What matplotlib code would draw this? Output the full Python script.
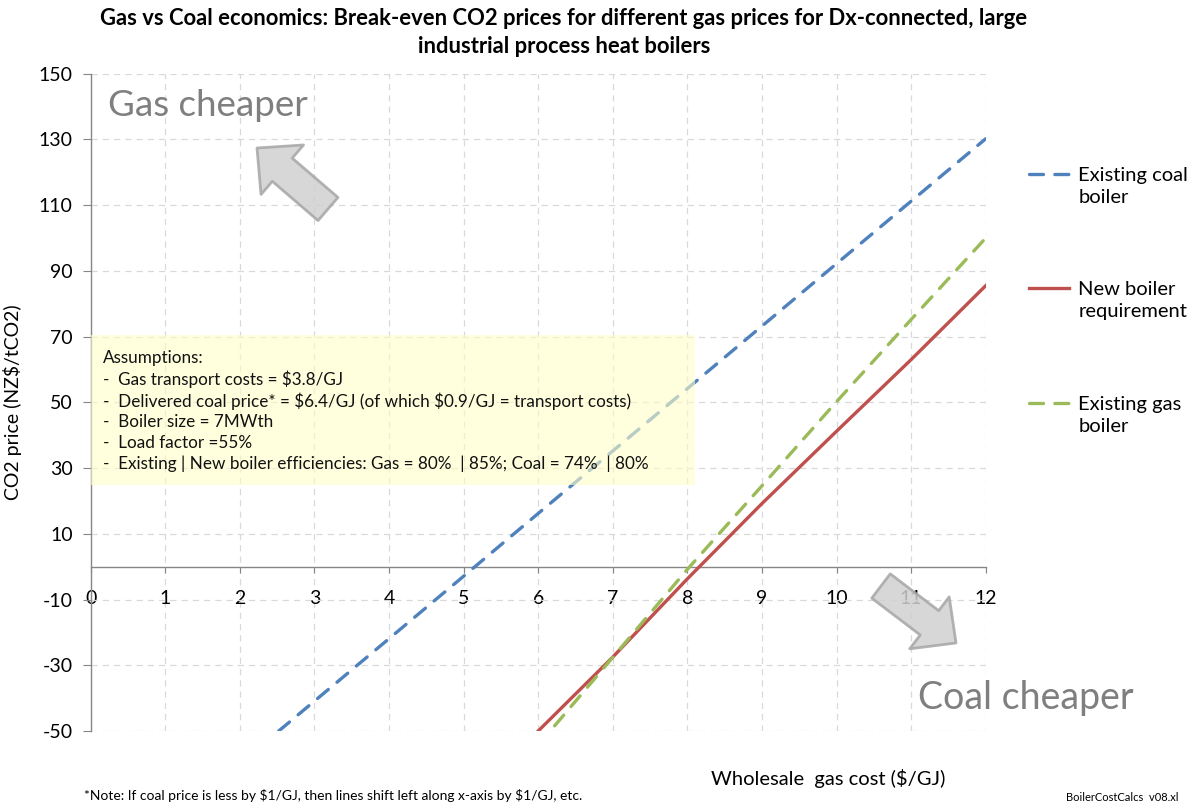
import matplotlib
matplotlib.use("Agg")
import matplotlib.pyplot as plt
from matplotlib.patches import Rectangle, FancyArrowPatch
from matplotlib.legend_handler import HandlerLine2D
from matplotlib.lines import Line2D

plt.rcParams['font.family'] = ['Lato', 'DejaVu Sans']
plt.rcParams['axes.unicode_minus'] = False

# ---------------- data ----------------
x_coal = [2, 3, 4, 5, 6, 7, 8, 9, 10, 11, 12]
coal_existing = [-59.9, -40.9, -21.9, -2.9, 16.2, 35.2, 54.2, 73.2, 92.2, 111.2, 130.2]
x_new = [6, 7, 8, 9, 10, 11, 12]
new_boiler = [-50.0, -27.5, -3.7, 19.2, 41.2, 63.0, 85.5]
x_gas = [6, 7, 8, 9, 10, 11, 12]
gas_existing = [-54.3, -27.6, -0.8, 24.6, 50.2, 75.2, 100.0]

series_labels = ["Existing coal\nboiler", "New boiler\nrequirement", "Existing gas\nboiler"]
x_ticks = list(range(0, 13))
y_ticks = list(range(-50, 151, 20))

title = ("Gas vs Coal economics: Break-even CO2 prices for different gas prices for Dx-connected, large\n"
         "industrial process heat boilers")
assumptions = ("Assumptions:\n"
               "-  Gas transport costs = \\$3.8/GJ\n"
               "-  Delivered coal price* = \\$6.4/GJ (of which \\$0.9/GJ = transport costs)\n"
               "-  Boiler size = 7MWth\n"
               "-  Load factor =55%\n"
               "-  Existing | New boiler efficiencies: Gas = 80%  | 85%; Coal = 74%  | 80%")
note = "*Note: If coal price is less by \\$1/GJ, then lines shift left along x-axis by \\$1/GJ, etc."

BLUE = "#4F81BD"
RED = "#C0504D"
GREEN = "#9BBB59"
GRID = "#D9D9D9"
SPINE = "#868686"

W, H = 1193, 805
fig = plt.figure(figsize=(W / 100, H / 100), dpi=100)
ax = fig.add_axes([90.7 / W, 1 - 731 / H, (985.7 - 90.7) / W, (731 - 73.7) / H])

ax.set_xlim(0, 12)
ax.set_ylim(-50, 150)
ax.set_xticks(x_ticks)
ax.set_yticks(y_ticks)
ax.grid(True, color=GRID, linestyle=(0, (5, 4)), linewidth=0.9, zorder=0)
ax.set_axisbelow(True)

for s in ["top", "right"]:
    ax.spines[s].set_visible(False)
ax.spines["left"].set_color(SPINE)
ax.spines["bottom"].set_color(SPINE)
ax.spines["bottom"].set_position(("data", 0))
ax.spines["left"].set_linewidth(1.0)
ax.spines["bottom"].set_linewidth(1.0)
ax.tick_params(axis="y", direction="out", length=6, color=SPINE, labelsize=14, pad=7)
ax.tick_params(axis="x", direction="out", length=4, color=SPINE, labelsize=14, pad=13)

# assumptions box (semi transparent, above grid)
ax.add_patch(Rectangle((0, 25), 8.1, 45.5, facecolor="#FFFFC8", edgecolor="none",
                       alpha=0.6, zorder=4))

l1, = ax.plot(x_coal, coal_existing, color=BLUE, lw=2.4, linestyle=(0, (4.2, 3.4)),
              dash_capstyle="round", zorder=3, label=series_labels[0])
l2, = ax.plot(x_new, new_boiler, color=RED, lw=2.4, zorder=3, label=series_labels[1])
l3, = ax.plot(x_gas, gas_existing, color=GREEN, lw=2.4, linestyle=(0, (4.2, 3.4)),
              dash_capstyle="round", zorder=3, label=series_labels[2])

ax.text(0.17, 47.5, assumptions, fontsize=12.3, va="center", ha="left",
        linespacing=1.33, zorder=5, color="#111111")

ax.set_ylabel("CO2 price (NZ$/tCO2)", fontsize=14, labelpad=12)


class RaisedLine(HandlerLine2D):
    def __init__(self, dy, **kw):
        super().__init__(**kw)
        self.dy = dy

    def create_artists(self, legend, orig_handle, xdescent, ydescent, width, height,
                       fontsize, trans):
        return super().create_artists(legend, orig_handle, xdescent, ydescent - 2 * self.dy,
                                      width, height, fontsize, trans)


leg = ax.legend(handles=[l1, l2, l3], loc="upper left",
                bbox_to_anchor=(1029 / W, 1 - 167 / H), bbox_transform=fig.transFigure,
                frameon=False, fontsize=14.5, handlelength=2.0, handletextpad=0.45,
                labelspacing=3.75, borderpad=0, borderaxespad=0,
                handler_map={Line2D: RaisedLine(9)})
for t in leg.get_texts():
    t.set_linespacing(1.35)

# title & labels
fig.text(564 / W, 1 - 8 / H, title, ha="center", va="top", fontsize=15.8,
         fontweight="bold", linespacing=1.4)
fig.text(828 / W, 1 - 778 / H, "Wholesale  gas cost (\\$/GJ)", ha="center", va="center",
         fontsize=14.5)
fig.text(84 / W, 1 - 795 / H, note, ha="left", va="center", fontsize=10)
fig.text(1066 / W, 1 - 797 / H, "BoilerCostCalcs  v08.xl", ha="left", va="center",
         fontsize=8)

# annotations
ax.text(108 / W, 1 - 105 / H, "Gas cheaper", transform=fig.transFigure, fontsize=26.5,
        color="#7F7F7F", ha="left", va="center")
ax.text(918 / W, 1 - 698 / H, "Coal cheaper", transform=fig.transFigure, fontsize=27,
        color="#7F7F7F", ha="left", va="center", zorder=6)

style = "simple,head_length=24,head_width=47,tail_width=22"
for tail, tip in [((328, 209), (257, 148)), ((881, 586), (956, 643))]:
    arr = FancyArrowPatch((tail[0] / W, 1 - tail[1] / H), (tip[0] / W, 1 - tip[1] / H),
                          transform=fig.transFigure, arrowstyle=style, mutation_scale=1,
                          shrinkA=0, shrinkB=0, facecolor="#D0D0D0", edgecolor="#A6A6A6",
                          linewidth=2, alpha=0.85, zorder=10)
    fig.add_artist(arr)

fig.savefig("out.png", dpi=100)
